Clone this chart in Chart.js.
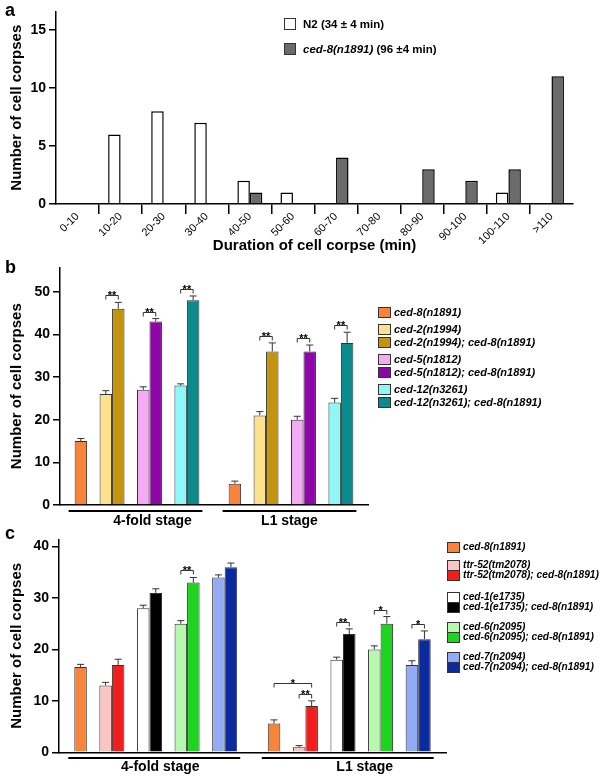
<!DOCTYPE html>
<html>
<head>
<meta charset="utf-8">
<script src="https://cdn.jsdelivr.net/npm/chart.js@4.4.1/dist/chart.umd.min.js"></script>
<style>
  body { margin: 0; background: #fff; width: 604px; height: 779px; position: relative; overflow: hidden;
         font-family: "Liberation Sans", Arial, sans-serif; }
  canvas { position: absolute; left: 0; }
  .panel { position: absolute; font-weight: bold; font-size: 18px; line-height: 18px; }
  .leg { position: absolute; font-weight: bold; font-style: italic; font-size: 11px; line-height: 12px; white-space: nowrap; }
  .box { position: absolute; border: 1px solid #333; box-sizing: border-box; }
</style>
</head>
<body>
<canvas id="chartA" width="604" height="262" style="top:0"></canvas>
<canvas id="chartB" width="604" height="274" style="top:256px"></canvas>
<canvas id="chartC" width="604" height="251" style="top:528px"></canvas>

<div class="panel" style="left:5px;top:1px">a</div>
<div class="panel" style="left:5px;top:258px">b</div>
<div class="panel" style="left:5px;top:524px">c</div>
<div id="legends"></div>

<script>
// --- panel a: duration of cell corpses
const durationBins = ["0-10", "10-20", "20-30", "30-40", "40-50", "50-60", "60-70", "70-80", "80-90", "90-100", "100-110", ">110"];
const n2Counts = [0, 6, 8, 7, 2, 1, 0, 0, 0, 0, 1, 0];
const ced8Counts = [0, 0, 0, 0, 1, 0, 4, 0, 3, 2, 3, 11];
const ticksA = [0, 5, 10, 15];

// --- panel b: ced-8 with ced-2 / ced-5 / ced-12
const stages = ["4-fold stage", "L1 stage"];
const genotypesB = ["ced-8(n1891)", "ced-2(n1994)", "ced-2(n1994); ced-8(n1891)", "ced-5(n1812)",
  "ced-5(n1812); ced-8(n1891)", "ced-12(n3261)", "ced-12(n3261); ced-8(n1891)"];
const meansB = [[15, 5], [26, 21], [46, 36], [27, 20], [43, 36], [28, 24], [48, 38]];
const errB = [[0.6, 0.6], [0.8, 0.9], [1.5, 2], [0.7, 0.8], [0.7, 1.5], [0.4, 1], [1, 2.5]];
const groupsB = [[0], [1, 2], [3, 4], [5, 6]];
const sigB = [
  { stage: 0, from: 1, to: 2, label: "**", level: 0 },
  { stage: 0, from: 3, to: 4, label: "**", level: 0 },
  { stage: 0, from: 5, to: 6, label: "**", level: 0 },
  { stage: 1, from: 1, to: 2, label: "**", level: 0 },
  { stage: 1, from: 3, to: 4, label: "**", level: 0 },
  { stage: 1, from: 5, to: 6, label: "**", level: 0 },
];
const ticksB = [0, 10, 20, 30, 40, 50];

// --- panel c: ced-8 with ttr-52 / ced-1 / ced-6 / ced-7
const genotypesC = ["ced-8(n1891)", "ttr-52(tm2078)", "ttr-52(tm2078); ced-8(n1891)", "ced-1(e1735)",
  "ced-1(e1735); ced-8(n1891)", "ced-6(n2095)", "ced-6(n2095); ced-8(n1891)", "ced-7(n2094)",
  "ced-7(n2094); ced-8(n1891)"];
const meansC = [[16.6, 5.6], [13, 1], [17, 9], [28, 18], [31, 23], [25, 20], [33, 25], [34, 17], [36, 22]];
const errC = [[0.5, 0.7], [0.6, 0.3], [1.1, 1], [0.6, 0.5], [0.8, 1], [0.6, 0.7], [1, 1.4], [0.5, 0.8], [0.8, 1.6]];
const groupsC = [[0], [1, 2], [3, 4], [5, 6], [7, 8]];
const sigC = [
  { stage: 0, from: 5, to: 6, label: "**", level: 0 },
  { stage: 1, from: 0, to: 2, label: "*", level: 1 },
  { stage: 1, from: 1, to: 2, label: "**", level: 0 },
  { stage: 1, from: 3, to: 4, label: "**", level: 0 },
  { stage: 1, from: 5, to: 6, label: "*", level: 0 },
  { stage: 1, from: 7, to: 8, label: "*", level: 0 },
];
const ticksC = [0, 10, 20, 30, 40];

// colours
const colorsB = ["#f7843a", "#fde18d", "#c4940e", "#f3acf3", "#8c07a6", "#8ef8f8", "#0b8b8b"];
const colorsC = ["#f7843a", "#fcc5c5", "#f21d1d", "#ffffff", "#000000", "#b8f7ae", "#1ed41e", "#93abf5", "#0a2aa0"];

const F = '"Liberation Sans", Arial, sans-serif';
Chart.defaults.font.family = F;
Chart.defaults.color = "#000";

function buildSets(groups, names, means, errs, colors) {
  const sets = [];
  groups.forEach((g, gi) => {
    if (gi > 0) sets.push({ label: "", data: stages.map(() => null), spacer: true });
    g.forEach(i => sets.push({
      label: names[i], data: means[i], err: errs[i], gIndex: i,
      backgroundColor: colors[i], borderColor: "#333", borderWidth: 1,
    }));
  });
  return sets;
}

function yScale(max, tickVals, width) {
  return {
    min: 0, max: max,
    ticks: { color: "#000", padding: 3, font: { size: 14, weight: "bold" } },
    afterBuildTicks: s => { s.ticks = tickVals.map(v => ({ value: v })); },
    grid: { drawOnChartArea: false, color: "#000", lineWidth: 1.5, tickLength: 7 },
    border: { color: "#000", width: 1.5 },
    title: { display: true, text: "Number of cell corpses", color: "#000",
             font: { size: 15, weight: "bold" }, padding: { top: 8, bottom: 0 } },
    afterFit: s => { s.width = width; },
  };
}

// error bars on top of each bar
const errorBars = {
  id: "errorBars",
  afterDatasetsDraw(chart) {
    const ctx = chart.ctx, y = chart.scales.y;
    ctx.save();
    ctx.strokeStyle = "#333";
    ctx.lineWidth = 1;
    chart.data.datasets.forEach((ds, di) => {
      if (!ds.err) return;
      chart.getDatasetMeta(di).data.forEach((bar, j) => {
        const top = y.getPixelForValue(ds.data[j] + ds.err[j]);
        ctx.beginPath();
        ctx.moveTo(bar.x, bar.y);
        ctx.lineTo(bar.x, top);
        ctx.moveTo(bar.x - 3.5, top);
        ctx.lineTo(bar.x + 3.5, top);
        ctx.stroke();
      });
    });
    ctx.restore();
  },
};

// significance brackets
const brackets = {
  id: "brackets",
  afterDatasetsDraw(chart, args, opts) {
    if (!opts.list) return;
    const ctx = chart.ctx, y = chart.scales.y, sets = chart.data.datasets;
    const idx = g => sets.findIndex(d => d.gIndex === g);
    ctx.save();
    ctx.strokeStyle = "#333";
    ctx.fillStyle = "#000";
    ctx.lineWidth = 1;
    ctx.font = "bold 11px " + F;
    ctx.textAlign = "center";
    opts.list.forEach(s => {
      const a = chart.getDatasetMeta(idx(s.from)).data[s.stage];
      const b = chart.getDatasetMeta(idx(s.to)).data[s.stage];
      let top = Infinity;
      for (let g = s.from; g <= s.to; g++) {
        const ds = sets[idx(g)];
        top = Math.min(top, y.getPixelForValue(ds.data[s.stage] + ds.err[s.stage]));
      }
      const by = Math.round(top - 7 - s.level * 11) + 0.5;
      ctx.beginPath();
      ctx.moveTo(a.x, by + 4);
      ctx.lineTo(a.x, by);
      ctx.lineTo(b.x, by);
      ctx.lineTo(b.x, by + 4);
      ctx.stroke();
      ctx.fillText(s.label, (a.x + b.x) / 2, by + 3.5);
    });
    ctx.restore();
  },
};

// underline + stage name under each group
const stageLines = {
  id: "stageLines",
  afterDraw(chart, args, opts) {
    if (!opts.shift) return;
    const ctx = chart.ctx, bottom = chart.chartArea.bottom, sets = chart.data.datasets;
    const metas = sets.map((d, i) => chart.getDatasetMeta(i)).filter((m, i) => !sets[i].spacer);
    ctx.save();
    ctx.fillStyle = "#000";
    ctx.font = "bold 14px " + F;
    ctx.textAlign = "center";
    ctx.textBaseline = "middle";
    chart.data.labels.forEach((lab, j) => {
      const bars = metas.map(m => m.data[j]);
      const l = Math.min(...bars.map(b => b.x - b.width / 2)) - 6;
      const r = Math.max(...bars.map(b => b.x + b.width / 2)) + 3;
      ctx.fillRect(l, bottom + opts.lineGap, r - l, 2);
      ctx.fillText(lab, (l + r) / 2 + opts.shift[j], bottom + opts.textGap);
    });
    ctx.restore();
  },
};

Chart.register(errorBars, brackets, stageLines);

const commonPlugins = { legend: { display: false }, tooltip: { enabled: false } };

// panel a
new Chart(document.getElementById("chartA"), {
  type: "bar",
  data: {
    labels: durationBins,
    datasets: [
      { label: "N2", data: n2Counts, backgroundColor: "#ffffff", borderColor: "#000", borderWidth: 1.5 },
      { label: "ced-8(n1891)", data: ced8Counts, backgroundColor: "#6b6b6b", borderColor: "#000", borderWidth: 1.5 },
    ],
  },
  options: {
    responsive: false, animation: false,
    layout: { padding: { left: 0, top: 6, right: 31, bottom: 0 } },
    datasets: { bar: { barPercentage: 1, categoryPercentage: 0.58 } },
    plugins: commonPlugins,
    scales: {
      x: {
        ticks: { color: "#000", font: { size: 11 }, minRotation: 45, maxRotation: 45, padding: -4, autoSkip: false },
        grid: { offset: true, drawOnChartArea: false, lineWidth: 1.5, tickLength: 10,
                tickColor: c => (c.index > 0 ? "#000" : "rgba(0,0,0,0)") },
        border: { color: "#000", width: 1.5 },
        title: { display: true, text: "Duration of cell corpse (min)", color: "#000",
                 font: { size: 15, weight: "bold" }, padding: { top: 0, bottom: 7 } },
        afterFit: s => { s.height = 58; },
      },
      y: yScale(16.6, ticksA, 56),
    },
  },
});

// panel b
new Chart(document.getElementById("chartB"), {
  type: "bar",
  data: { labels: stages, datasets: buildSets(groupsB, genotypesB, meansB, errB, colorsB) },
  options: {
    responsive: false, animation: false,
    layout: { padding: { left: 0, top: 10, right: 236, bottom: 0 } },
    datasets: { bar: { barPercentage: 1, categoryPercentage: 0.81 } },
    plugins: Object.assign({ brackets: { list: sigB }, stageLines: { shift: [17, 0], lineGap: 5, textGap: 16 } }, commonPlugins),
    scales: {
      x: {
        ticks: { display: false },
        grid: { display: false },
        border: { display: true, color: "#000", width: 1.5 },
        afterFit: s => { s.height = 25; },
      },
      y: yScale(55.7, ticksB, 60),
    },
  },
});

// panel c
new Chart(document.getElementById("chartC"), {
  type: "bar",
  data: { labels: stages, datasets: buildSets(groupsC, genotypesC, meansC, errC, colorsC) },
  options: {
    responsive: false, animation: false,
    layout: { padding: { left: 0, top: 4.7, right: 158, bottom: 0 } },
    datasets: { bar: { barPercentage: 1, categoryPercentage: 0.842 } },
    plugins: Object.assign({ brackets: { list: sigC }, stageLines: { shift: [6, 17], lineGap: 4.7, textGap: 15 } }, commonPlugins),
    scales: {
      x: {
        ticks: { display: false },
        grid: { display: false },
        border: { display: true, color: "#000", width: 1.5 },
        afterFit: s => { s.height = 26.7; },
      },
      y: yScale(41.4, ticksC, 59),
    },
  },
});

// legends (html)
const legends = document.getElementById("legends");
function addRow(x, cy, w, h, color, html, textX, size) {
  const box = document.createElement("div");
  box.className = "box";
  Object.assign(box.style, { left: x + "px", top: (cy - h / 2) + "px", width: w + "px", height: h + "px", background: color });
  const txt = document.createElement("div");
  txt.className = "leg";
  Object.assign(txt.style, { left: textX + "px", top: (cy - 6.5) + "px", fontSize: size + "px" });
  txt.innerHTML = html;
  legends.appendChild(box);
  legends.appendChild(txt);
  return txt;
}
// a
const la1 = addRow(284, 24, 12, 12, "#ffffff", "N2 (34 ± 4 min)", 303, 11.5);
la1.style.fontStyle = "normal";
addRow(284, 49, 12, 12, "#6b6b6b", "ced-8(n1891)<span style='font-style:normal'> (96 ±4 min)</span>", 303, 11.5);
// b
const rowsB = [312, 329, 342, 359, 372, 389, 402];
genotypesB.forEach((g, i) => addRow(378, rowsB[i], 13, 11, colorsB[i], g, 394, 11));
// c
const rowsC = [547.7, 565.7, 575.5, 597.3, 607.5, 627.7, 637.7, 657.7, 667.7];
genotypesC.forEach((g, i) => addRow(447, rowsC[i], 12.5, 10.5, colorsC[i], g, 463, 10.2));
</script>
</body>
</html>
